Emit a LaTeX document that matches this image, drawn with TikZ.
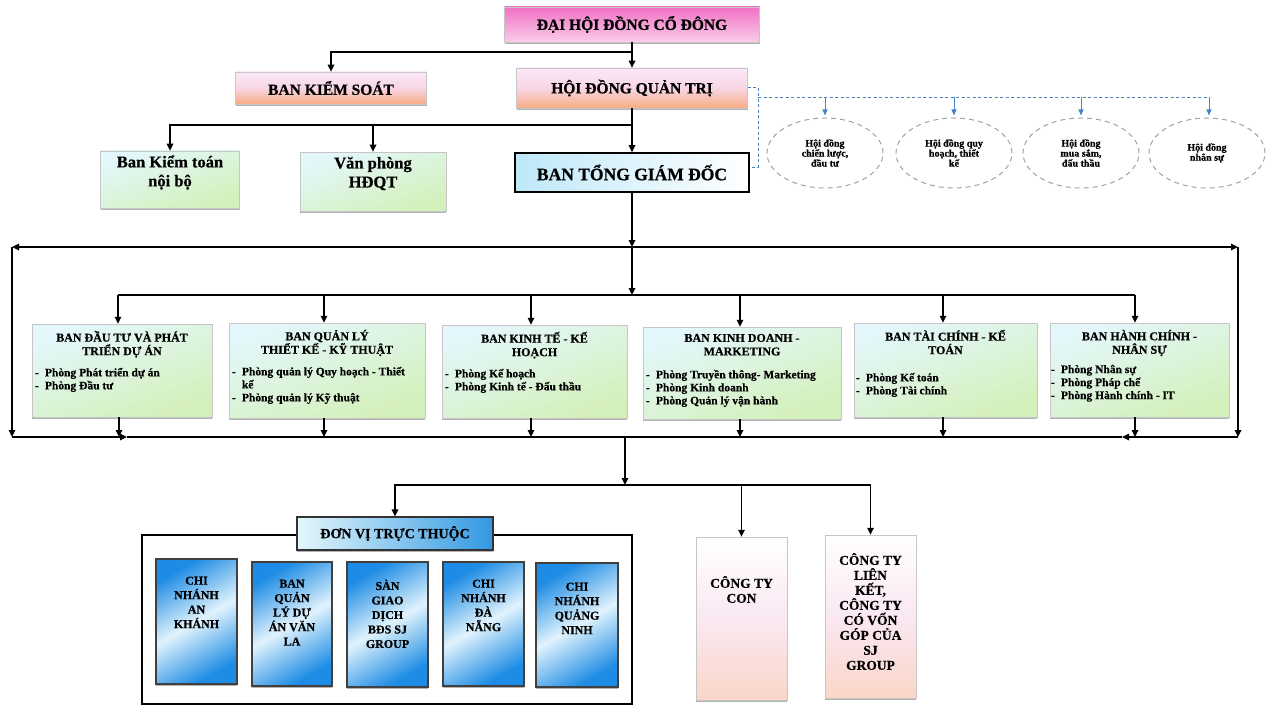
\documentclass[tikz,border=0pt]{standalone}
\usepackage{fontspec}
\setmainfont{Liberation Serif}[BoldFeatures={FakeBold=0.6}]
\usetikzlibrary{arrows.meta,shapes.geometric,shadows}
\definecolor{pinkA}{RGB}{240,112,196}
\definecolor{pinkB}{RGB}{250,205,232}
\definecolor{peachT}{RGB}{250,232,248}
\definecolor{peachM}{RGB}{248,214,228}
\definecolor{peachB}{RGB}{246,172,132}
\definecolor{cyanT}{RGB}{228,247,252}
\definecolor{greenB}{RGB}{212,240,186}
\definecolor{btgdL}{RGB}{190,232,248}
\definecolor{blueH}{RGB}{50,152,226}
\definecolor{blueU}{RGB}{30,140,228}
\definecolor{blueM}{RGB}{225,243,253}
\definecolor{peachL}{RGB}{250,214,200}
\definecolor{pinkL}{RGB}{250,232,242}
\definecolor{dashblue}{RGB}{70,130,200}
\definecolor{ellgray}{RGB}{150,170,150}
\newcommand{\dsh}{\makebox[10pt][l]{-}}
\begin{document}
\begin{tikzpicture}[x=1pt,y=-1pt,
  conn/.style={line width=1.6pt, draw=black},
  arr/.style={conn, -{Triangle[length=7pt,width=6.5pt]}},
  darr/.style={line width=0.9pt, draw=dashblue, -{Triangle[length=6pt,width=5pt]}},
  dline/.style={line width=0.9pt, draw=dashblue, dash pattern=on 3pt off 2.5pt},
  sh/.style={drop shadow={shadow xshift=0.4pt, shadow yshift=-1.6pt, fill=gray!60, opacity=1}},
  base/.style={rectangle, inner sep=0pt, draw=gray!45, line width=0.5pt, sh},
  pinkbox/.style={base, top color=pinkA, bottom color=pinkB},
  peachbox/.style={base, top color=peachT, bottom color=peachB, middle color=peachM},
  greenbox/.style={base, top color=cyanT, bottom color=greenB, shading angle=20},
  btgdbox/.style={rectangle, inner sep=0pt, draw=black, line width=1.6pt, left color=btgdL, right color=white},
  hdrbox/.style={rectangle, inner sep=0pt, draw=black!80, line width=1.1pt, sh, left color=cyanT, right color=blueH},
  unitbox/.style={rectangle, inner sep=0pt, draw=black!75, line width=1.1pt, sh, top color=blueU, bottom color=blueU, middle color=blueM, shading angle=30},
  cobox/.style={base, top color=white, bottom color=peachL, middle color=pinkL},
  ell/.style={ellipse, inner sep=0pt, draw=ellgray, line width=1pt, dash pattern=on 5pt off 4pt, minimum width=116, minimum height=70, align=center, font=\bfseries\fontsize{10}{10}\selectfont},
  hdr/.style={font=\bfseries\fontsize{15.5}{18}\selectfont, align=center},
  sub/.style={font=\bfseries\fontsize{16.5}{19}\selectfont, align=center},
  dtitle/.style={inner sep=0pt, font=\bfseries\fontsize{12}{13.5}\selectfont, align=center},
  dlist/.style={inner sep=0pt, font=\bfseries\fontsize{11.5}{13}\selectfont, align=left},
  utext/.style={inner sep=0pt, font=\bfseries\fontsize{12}{14.5}\selectfont, align=center},
  ctext/.style={inner sep=0pt, font=\bfseries\fontsize{13.5}{15}\selectfont, align=center}
]
\useasboundingbox (0,0) rectangle (1274,706);

% ---- top level
\node[pinkbox, minimum width=255, minimum height=35, hdr] (dhdcd) at (632,24.5) {ĐẠI HỘI ĐỒNG CỔ ĐÔNG};
\node[peachbox, minimum width=191, minimum height=32, hdr] (bks) at (331,88) {BAN KIỂM SOÁT};
\node[peachbox, minimum width=231, minimum height=40, hdr] (hdqt) at (632,88) {HỘI ĐỒNG QUẢN TRỊ};
\node[greenbox, minimum width=139, minimum height=57] (bktnb) at (170,179.5) {};
\node[sub] (bktnbt) at ([yshift=7pt]bktnb.center) {Ban Kiểm toán\\nội bộ};
\node[greenbox, minimum width=146, minimum height=59] (vp) at (373,181.5) {};
\node[sub] (vpt) at ([yshift=8pt]vp.center) {Văn phòng\\HĐQT};
\node[btgdbox, minimum width=234, minimum height=39, font=\bfseries\fontsize{17.5}{19}\selectfont] (btgd) at (632,172.5) {BAN TỔNG GIÁM ĐỐC};

\coordinate (j1) at (632,52);
\coordinate (j2) at (632,125);
\draw[conn] (dhdcd.south) -- (j1);
\draw[arr] (j1) -| (bks.north);
\draw[arr] (j1) -- (hdqt.north);
\draw[conn] (hdqt.south) -- (j2);
\draw[arr] (j2) -| (bktnb.north);
\draw[arr] (j2) -| (vp.north);
\draw[arr] (j2) -- (btgd.north);

% ---- committees
\node[ell] (e1) at (825,153) {Hội đồng\\chiến lược,\\đầu tư};
\node[ell] (e2) at (954,153) {Hội đồng quy\\hoạch, thiết\\kế};
\node[ell] (e3) at (1081,153) {Hội đồng\\mua sắm,\\đấu thầu};
\node[ell] (e4) at (1207,153) {Hội đồng\\nhân sự};
\coordinate (dq1) at (758,87);
\coordinate (dq2) at (758,167);
\coordinate (dh) at (758,97);
\coordinate (dend) at (1209,97);
\draw[dline] (hdqt.east |- dq1) -- (dq1) -- (dq2) -- (btgd.east |- dq2);
\draw[dline] (dh) -- (dend);
\draw[darr, shorten >=2pt] (e1 |- dh) -- (e1.north);
\draw[darr, shorten >=2pt] (e2 |- dh) -- (e2.north);
\draw[darr, shorten >=2pt] (e3 |- dh) -- (e3.north);
\draw[darr, shorten >=2pt] (dend) -- (dend |- e4.north);

% ---- buses
\coordinate (j3) at (632,247);
\coordinate (j4) at (632,295);
\coordinate (bl) at (12,247);
\coordinate (br) at (1238,247);
\coordinate (bl2) at (12,437);
\coordinate (br2) at (1238,437);
\coordinate (ba1) at (127,437);
\coordinate (ba2) at (1122,437);
\draw[arr] (btgd.south) -- (j3);
\draw[arr] (j3) -- (j4);
\draw[arr] (j3) -- (bl);
\draw[arr] (j3) -- (br);
\draw[arr] (bl) -- (bl2);
\draw[arr] (br) -- (br2);
\draw[conn] (ba1) -- (ba2);
\draw[arr] (bl2) -- (ba1);
\draw[arr] (br2) -- (ba2);

% ---- departments
\node[greenbox, minimum width=180, minimum height=93] (d1) at (122,370.5) {};
\node[greenbox, minimum width=196, minimum height=95] (d2) at (327,370.5) {};
\node[greenbox, minimum width=185, minimum height=93] (d3) at (534.5,371.5) {};
\node[greenbox, minimum width=198, minimum height=92] (d4) at (742,373) {};
\node[greenbox, minimum width=183, minimum height=94] (d5) at (945.5,370) {};
\node[greenbox, minimum width=179, minimum height=94] (d6) at (1139.5,370) {};

\node[dtitle, anchor=north] (d1t) at ([yshift=-7pt]d1.north) {BAN ĐẦU TƯ VÀ PHÁT\\TRIỂN DỰ ÁN};
\node[dtitle, anchor=north] (d2t) at ([yshift=-7pt]d2.north) {BAN QUẢN LÝ\\THIẾT KẾ - KỸ THUẬT};
\node[dtitle, anchor=north] (d3t) at ([yshift=-7pt]d3.north) {BAN KINH TẾ - KẾ\\HOẠCH};
\node[dtitle, anchor=north] (d4t) at ([yshift=-7pt]d4.north) {BAN KINH DOANH -\\MARKETING};
\node[dtitle, anchor=north] (d5t) at ([yshift=-7pt]d5.north) {BAN TÀI CHÍNH - KẾ\\TOÁN};
\node[dtitle, anchor=north] (d6t) at ([yshift=-7pt]d6.north) {BAN HÀNH CHÍNH -\\NHÂN SỰ};

\node[dlist, anchor=north west] (d1l) at ([xshift=3pt,yshift=-44pt]d1.north west) {\dsh Phòng Phát triển dự án\\\dsh Phòng Đầu tư};
\node[dlist, anchor=north west] (d2l) at ([xshift=3pt,yshift=-44pt]d2.north west) {\dsh Phòng quản lý Quy hoạch - Thiết\\\hspace*{10pt}kế\\\dsh Phòng quản lý Kỹ thuật};
\node[dlist, anchor=north west] (d3l) at ([xshift=3pt,yshift=-44pt]d3.north west) {\dsh Phòng Kế hoạch\\\dsh Phòng Kinh tế - Đấu thầu};
\node[dlist, anchor=north west] (d4l) at ([xshift=3pt,yshift=-43pt]d4.north west) {\dsh Phòng Truyền thông- Marketing\\\dsh Phòng Kinh doanh\\\dsh Phòng Quản lý vận hành};
\node[dlist, anchor=north west] (d5l) at ([xshift=2pt,yshift=-50pt]d5.north west) {\dsh Phòng Kế toán\\\dsh Phòng Tài chính};
\node[dlist, anchor=north west] (d6l) at ([xshift=1pt,yshift=-42pt]d6.north west) {\dsh Phòng Nhân sự\\\dsh Phòng Pháp chế\\\dsh Phòng Hành chính - IT};

\coordinate (t1) at (118,295);
\coordinate (t2) at (324,295);
\coordinate (t3) at (531,295);
\coordinate (t4) at (740,295);
\coordinate (t5) at (943,295);
\coordinate (t6) at (1135,295);
\draw[conn] (t1) -- (t6);
\draw[arr] (t1) -- (t1 |- d1.north);
\draw[arr] (t2) -- (t2 |- d2.north);
\draw[arr] (t3) -- (t3 |- d3.north);
\draw[arr] (t4) -- (t4 |- d4.north);
\draw[arr] (t5) -- (t5 |- d5.north);
\draw[arr] (t6) -- (t6 |- d6.north);

\coordinate (b1) at (119,437);
\coordinate (b2) at (324,437);
\coordinate (b3) at (531,437);
\coordinate (b4) at (740,437);
\coordinate (b5) at (943,437);
\coordinate (b6) at (1135,437);
\draw[arr] (b1 |- d1.south) -- (b1);
\draw[arr] (b2 |- d2.south) -- (b2);
\draw[arr] (b3 |- d3.south) -- (b3);
\draw[arr] (b4 |- d4.south) -- (b4);
\draw[arr] (b5 |- d5.south) -- (b5);
\draw[arr] (b6 |- d6.south) -- (b6);

% ---- subsidiaries
\node[rectangle, draw=black, line width=1.1pt, minimum width=490, minimum height=169, inner sep=0pt] (dvbox) at (387,619.5) {};
\node[hdrbox, minimum width=196, minimum height=33, font=\bfseries\fontsize{14}{16}\selectfont] (dvtt) at (395,533.5) {ĐƠN VỊ TRỰC THUỘC};

\node[unitbox, minimum width=81, minimum height=125] (u1) at (196.5,621.5) {};
\node[unitbox, minimum width=80, minimum height=124] (u2) at (292,624) {};
\node[unitbox, minimum width=81, minimum height=125] (u3) at (387.5,624.5) {};
\node[unitbox, minimum width=81, minimum height=124] (u4) at (483.5,624) {};
\node[unitbox, minimum width=82, minimum height=124] (u5) at (577,625) {};
\node[utext, anchor=north] (u1t) at ([yshift=-18pt]u1.north) {CHI\\NHÁNH\\AN\\KHÁNH};
\node[utext, anchor=north] (u2t) at ([yshift=-18pt]u2.north) {BAN\\QUẢN\\LÝ DỰ\\ÁN VĂN\\LA};
\node[utext, anchor=north] (u3t) at ([yshift=-18pt]u3.north) {SÀN\\GIAO\\DỊCH\\BĐS SJ\\GROUP};
\node[utext, anchor=north] (u4t) at ([yshift=-18pt]u4.north) {CHI\\NHÁNH\\ĐÀ\\NẴNG};
\node[utext, anchor=north] (u5t) at ([yshift=-20pt]u5.north) {CHI\\NHÁNH\\QUẢNG\\NINH};

\node[cobox, minimum width=91, minimum height=163] (ctcon) at (741.5,618.5) {};
\node[cobox, minimum width=91, minimum height=163] (lk) at (870.5,616.5) {};
\node[ctext] (ctcont) at ([yshift=29pt]ctcon.center) {CÔNG TY\\CON};
\node[ctext] (lkt) at ([yshift=5pt]lk.center) {CÔNG TY\\LIÊN\\KẾT,\\CÔNG TY\\CÓ VỐN\\GÓP CỦA\\SJ\\GROUP};

\coordinate (j5) at (625,437);
\coordinate (j6) at (625,485);
\draw[arr] (j5) -- (j6);
\draw[arr] (j6) -| (dvtt.north);
\draw[arr] (j6) -| (ctcon.north);
\draw[arr] (j6) -| (lk.north);
\end{tikzpicture}
\end{document}
